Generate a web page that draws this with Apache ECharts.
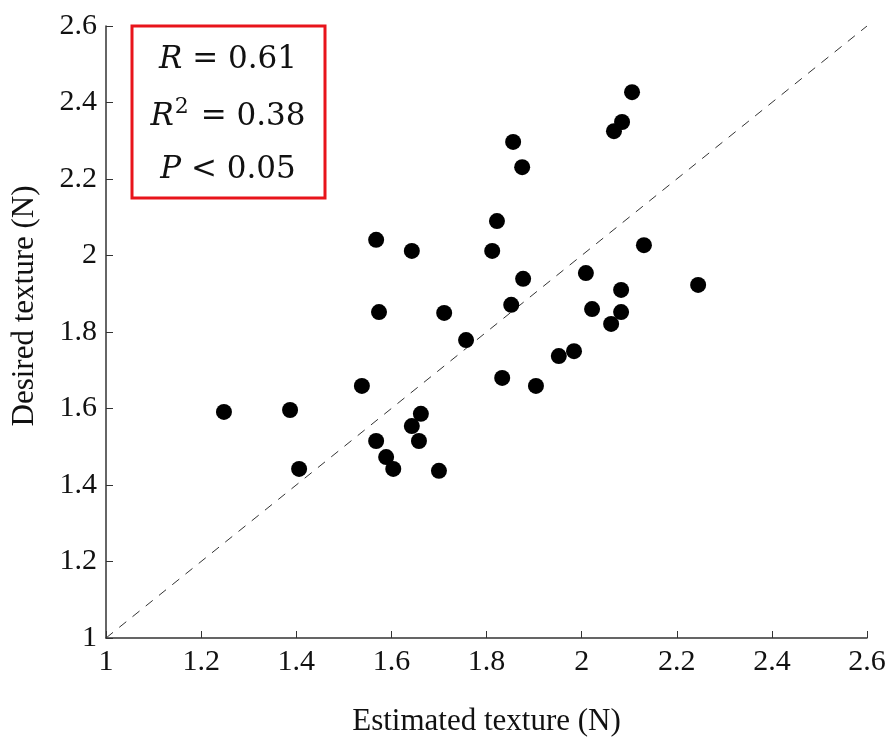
<!DOCTYPE html>
<html>
<head>
<meta charset="utf-8">
<script src="https://cdn.jsdelivr.net/npm/echarts@6/dist/echarts.min.js"></script>
<style>
  html, body { margin: 0; padding: 0; background: #fff; }
  #chart { width: 892px; height: 742px; }
</style>
</head>
<body>
<div id="chart"></div>
<script>
// estimated texture (x) and desired texture (y)
var estimated = [1.248, 1.387, 1.406, 1.538, 1.568, 1.589, 1.604, 1.643, 1.662, 1.658, 1.700,
  1.568, 1.643, 1.574, 1.711, 1.757, 1.833, 1.852, 1.812, 1.822, 1.856, 1.875,
  1.877, 1.904, 1.952, 1.984, 2.009, 2.022, 2.062, 2.083, 2.083, 2.068, 2.085,
  2.106, 2.131, 2.245];
var desired = [1.591, 1.596, 1.442, 1.659, 1.515, 1.473, 1.442, 1.554, 1.586, 1.515, 1.437,
  2.041, 2.012, 1.852, 1.850, 1.779, 1.680, 1.871, 2.012, 2.090, 2.297, 2.231,
  1.939, 1.659, 1.737, 1.750, 1.954, 1.860, 1.821, 1.910, 1.852, 2.325, 2.349,
  2.427, 2.027, 1.923];
// y = x reference line
var diagLine = [1, 2.6];
// tick range
var axisMin = 1, axisMax = 2.6, axisStep = 0.2;

var points = [];
for (var i = 0; i < estimated.length; i++) {
  points.push([estimated[i], desired[i]]);
}

var serif = '"Liberation Serif", "Times New Roman", serif';
var mathFont = '"DejaVu Serif", serif';

var myChart = echarts.init(document.getElementById('chart'));

var option = {
  animation: false,
  grid: { left: 106, right: 25, top: 26, bottom: 104 },
  xAxis: {
    type: 'value',
    min: axisMin, max: axisMax, interval: axisStep,
    name: 'Estimated texture (N)',
    nameLocation: 'middle',
    nameGap: 68,
    nameTextStyle: { fontFamily: serif, fontSize: 31, color: '#111' },
    axisLine: { show: true, lineStyle: { color: '#333', width: 1.5 } },
    axisTick: { show: true, inside: true, length: 7, lineStyle: { color: '#333' } },
    axisLabel: { fontFamily: serif, fontSize: 30, color: '#111', margin: 9,
      formatter: function (v) { return +v.toFixed(1) + ''; } },
    splitLine: { show: false }
  },
  yAxis: {
    type: 'value',
    min: axisMin, max: axisMax, interval: axisStep,
    name: 'Desired texture (N)',
    nameLocation: 'middle',
    nameGap: 66,
    nameTextStyle: { fontFamily: serif, fontSize: 31, color: '#111', padding: [0, 0, 0, 52] },
    axisLine: { show: true, lineStyle: { color: '#333', width: 1.5 } },
    axisTick: { show: true, inside: true, length: 7, lineStyle: { color: '#333' } },
    axisLabel: { fontFamily: serif, fontSize: 30, color: '#111', margin: 9,
      formatter: function (v) { return +v.toFixed(1) + ''; } },
    splitLine: { show: false }
  },
  graphic: [
    {
      type: 'rect',
      shape: { x: 132, y: 26, width: 193, height: 172 },
      style: { fill: '#fff', stroke: '#e8141b', lineWidth: 3 },
      z: 10
    },
    {
      type: 'text', x: 228, y: 60, z: 11,
      style: {
        text: '{i|R} = 0.61', align: 'center', verticalAlign: 'middle',
        font: '31px ' + mathFont, fill: '#111',
        rich: { i: { fontStyle: 'italic', fontSize: 31, fontFamily: mathFont } }
      }
    },
    {
      type: 'text', x: 228, y: 117, z: 11,
      style: {
        text: '{i|R}{s|2} = 0.38', align: 'center', verticalAlign: 'middle',
        font: '31px ' + mathFont, fill: '#111',
        rich: {
          i: { fontStyle: 'italic', fontSize: 31, fontFamily: mathFont },
          s: { fontSize: 22, fontFamily: mathFont, verticalAlign: 'top', padding: [0, 2, 20, 1] }
        }
      }
    },
    {
      type: 'text', x: 228, y: 170, z: 11,
      style: {
        text: '{i|P} < 0.05', align: 'center', verticalAlign: 'middle',
        font: '31px ' + mathFont, fill: '#111',
        rich: { i: { fontStyle: 'italic', fontSize: 31, fontFamily: mathFont } }
      }
    }
  ],
  series: [
    {
      name: 'y = x',
      type: 'line',
      data: [[diagLine[0], diagLine[0]], [diagLine[1], diagLine[1]]],
      symbol: 'none',
      lineStyle: { color: '#333', width: 1, type: [9, 8] },
      z: 1
    },
    {
      name: 'samples',
      type: 'scatter',
      data: points,
      symbol: 'circle',
      symbolSize: 16,
      itemStyle: { color: '#000', opacity: 1 },
      z: 2
    }
  ]
};

myChart.setOption(option);
</script>
</body>
</html>
